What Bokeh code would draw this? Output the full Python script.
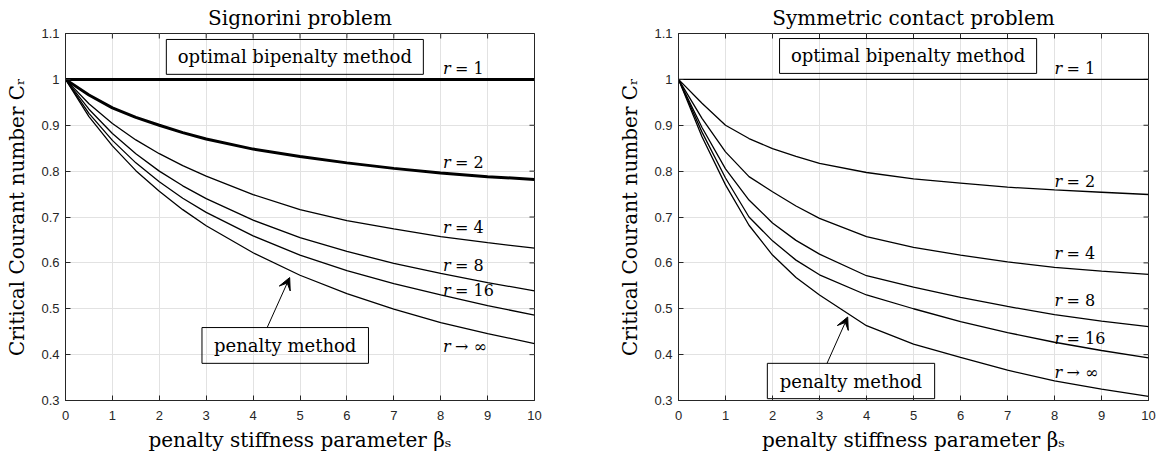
import math
from bokeh.plotting import figure
from bokeh.layouts import row
from bokeh.models import (FixedTicker, Range1d, Arrow, VeeHead)
from bokeh.embed import file_html
from bokeh.resources import INLINE
from bokeh.core.properties import value

# ---------------- data ----------------
beta = [0, 0.5, 1, 1.5, 2, 2.5, 3, 4, 5, 6, 7, 8, 9, 10]

# Signorini problem
sig_r1 = [1.000, 1.000, 1.000, 1.000, 1.000, 1.000, 1.000, 1.000, 1.000, 1.000, 1.000, 1.000, 1.000, 1.000]
sig_r2 = [1.000, 0.966, 0.938, 0.917, 0.900, 0.884, 0.870, 0.848, 0.832, 0.818, 0.806, 0.796, 0.788, 0.782]
sig_r4 = [1.000, 0.947, 0.904, 0.868, 0.838, 0.812, 0.789, 0.749, 0.716, 0.692, 0.674, 0.657, 0.644, 0.632]
sig_r8 = [1.000, 0.935, 0.882, 0.838, 0.800, 0.768, 0.740, 0.693, 0.655, 0.625, 0.599, 0.577, 0.557, 0.539]
sig_r16 = [1.000, 0.926, 0.867, 0.818, 0.777, 0.741, 0.710, 0.659, 0.617, 0.583, 0.555, 0.530, 0.507, 0.486]
sig_inf = [1.000, 0.919, 0.855, 0.801, 0.756, 0.716, 0.681, 0.622, 0.573, 0.533, 0.499, 0.470, 0.446, 0.424]

# Symmetric contact problem
sym_r1 = [1.000, 1.000, 1.000, 1.000, 1.000, 1.000, 1.000, 1.000, 1.000, 1.000, 1.000, 1.000, 1.000, 1.000]
sym_r2 = [1.000, 0.948, 0.900, 0.871, 0.849, 0.832, 0.817, 0.797, 0.783, 0.774, 0.765, 0.759, 0.754, 0.749]
sym_r4 = [1.000, 0.915, 0.842, 0.788, 0.755, 0.724, 0.697, 0.657, 0.634, 0.617, 0.602, 0.590, 0.582, 0.575]
sym_r8 = [1.000, 0.895, 0.805, 0.737, 0.687, 0.649, 0.619, 0.572, 0.547, 0.525, 0.505, 0.487, 0.473, 0.461]
sym_r16 = [1.000, 0.885, 0.785, 0.700, 0.648, 0.606, 0.574, 0.530, 0.500, 0.472, 0.448, 0.427, 0.409, 0.393]
sym_inf = [1.000, 0.875, 0.770, 0.682, 0.617, 0.568, 0.530, 0.463, 0.423, 0.394, 0.366, 0.343, 0.325, 0.309]

label_rel = ["= 1", "= 2", "= 4", "= 8", "= 16", "\u2192 \u221e"]
sig_label_x = [8.05, 8.05, 8.05, 8.05, 8.05, 8.05]
sig_label_y = [1.023, 0.818, 0.678, 0.594, 0.540, 0.418]
sym_label_x = [8.0, 8.0, 8.0, 8.0, 8.0, 8.0]
sym_label_y = [1.024, 0.777, 0.620, 0.518, 0.4345, 0.362]

x_ticks = [0, 1, 2, 3, 4, 5, 6, 7, 8, 9, 10]
y_ticks = [0.3, 0.4, 0.5, 0.6, 0.7, 0.8, 0.9, 1.0, 1.1]
y_tick_labels = ["0.3", "0.4", "0.5", "0.6", "0.7", "0.8", "0.9", "1", "1.1"]

titles = ["Signorini problem", "Symmetric contact problem"]
box_top_text = "optimal bipenalty method"
box_bot_text = "penalty method"
# boxes: [left, right, bottom, top]
sig_box_top = [2.15, 7.63, 1.011, 1.087]
sig_box_bot = [2.91, 6.46, 0.381, 0.459]
sym_box_top = [2.15, 7.62, 1.013, 1.089]
sym_box_bot = [1.89, 5.45, 0.304, 0.381]
# arrows: [x_start, y_start, x_end, y_end]
sig_arrow = [4.30, 0.459, 4.78, 0.568]
sym_arrow = [3.16, 0.381, 3.60, 0.482]

SERIF = "DejaVu Serif"
SANS = "Liberation Sans"
AXC = "#262626"


def make_fig(title, ys, widths, lab_x, lab_y, box_t, box_b, arr, width, bl, br):
    p = figure(width=width, height=455, output_backend="svg", toolbar_location=None,
               x_range=Range1d(0, 10), y_range=Range1d(0.3, 1.1),
               min_border_left=bl, min_border_right=br, min_border_top=33,
               min_border_bottom=55, title=title)
    p.title.text_font = SERIF
    p.title.text_font_size = "20px"
    p.title.text_font_style = "normal"
    p.title.align = "center"
    p.title.text_color = "black"
    p.title.standoff = 7
    p.outline_line_color = AXC
    p.outline_line_width = 1
    for ax in (p.xaxis[0], p.yaxis[0]):
        ax.axis_line_color = AXC
        ax.major_tick_line_color = AXC
        ax.major_tick_in = 5
        ax.major_tick_out = 0
        ax.minor_tick_line_color = None
        ax.major_label_text_font = SANS
        ax.major_label_text_font_size = "13px"
        ax.major_label_text_color = AXC
        ax.axis_label_text_font = SERIF
        ax.axis_label_text_font_size = "20px"
        ax.axis_label_text_font_style = "normal"
        ax.axis_label_text_color = "black"
    p.xaxis.ticker = FixedTicker(ticks=x_ticks)
    p.yaxis.ticker = FixedTicker(ticks=y_ticks)
    p.yaxis.major_label_overrides = {t: s for t, s in zip(y_ticks, y_tick_labels)}
    p.xaxis.major_label_standoff = 10
    p.yaxis.major_label_standoff = 6
    p.xaxis.axis_label_standoff = 5
    p.yaxis.axis_label_standoff = 9
    p.xaxis.axis_label = "penalty stiffness parameter \u03b2\u209b"
    p.yaxis.axis_label = "Critical Courant number C\u1d63"
    p.xgrid.grid_line_color = "#e2e2e2"
    p.ygrid.grid_line_color = "#e2e2e2"
    p.xgrid.ticker = FixedTicker(ticks=x_ticks)
    p.ygrid.ticker = FixedTicker(ticks=y_ticks)

    # inward box ticks on top and right (half of each dash is clipped by the frame)
    p.scatter(x=x_ticks, y=[y_ticks[-1]] * len(x_ticks), marker="dash",
              angle=math.pi / 2, size=10, line_color=AXC, line_width=1)
    p.scatter(x=[x_ticks[-1]] * len(y_ticks), y=y_ticks, marker="dash",
              size=10, line_color=AXC, line_width=1)

    for y, w in zip(ys, widths):
        p.line(beta, y, line_color="black", line_width=w)

    # curve labels
    p.text(x=lab_x, y=lab_y, text=["r"] * len(lab_x), text_font=value(SERIF),
           text_font_style="italic", text_font_size="16px", text_baseline="middle",
           text_align="left", text_color="black")
    p.text(x=lab_x, y=lab_y, text=label_rel, text_font=value(SERIF),
           text_font_size="16px", text_baseline="middle", text_align="left",
           text_color="black", x_offset=12)

    # text boxes
    for b, t in ((box_t, box_top_text), (box_b, box_bot_text)):
        p.quad(left=[b[0]], right=[b[1]], bottom=[b[2]], top=[b[3]],
               fill_color=None, line_color="black", line_width=1)
        p.text(x=[(b[0] + b[1]) / 2], y=[(b[2] + b[3]) / 2], text=[t],
               text_font=value(SERIF), text_font_size="18px", text_align="center",
               text_baseline="middle", text_color="black")

    p.add_layout(Arrow(x_start=arr[0], y_start=arr[1], x_end=arr[2], y_end=arr[3],
                       line_color="black", line_width=1,
                       end=VeeHead(size=12, fill_color="black", line_color="black")))
    return p


p1 = make_fig(titles[0], [sig_r1, sig_r2, sig_r4, sig_r8, sig_r16, sig_inf],
              [3, 3, 1.3, 1.3, 1.3, 1.3], sig_label_x, sig_label_y,
              sig_box_top, sig_box_bot, sig_arrow, 608, 65, 74)
p2 = make_fig(titles[1], [sym_r1, sym_r2, sym_r4, sym_r8, sym_r16, sym_inf],
              [1.3, 1.3, 1.3, 1.3, 1.3, 1.3], sym_label_x, sym_label_y,
              sym_box_top, sym_box_bot, sym_arrow, 548, 70, 8)

layout = row(p1, p2)
open("out.html", "w").write(file_html(layout, INLINE))
